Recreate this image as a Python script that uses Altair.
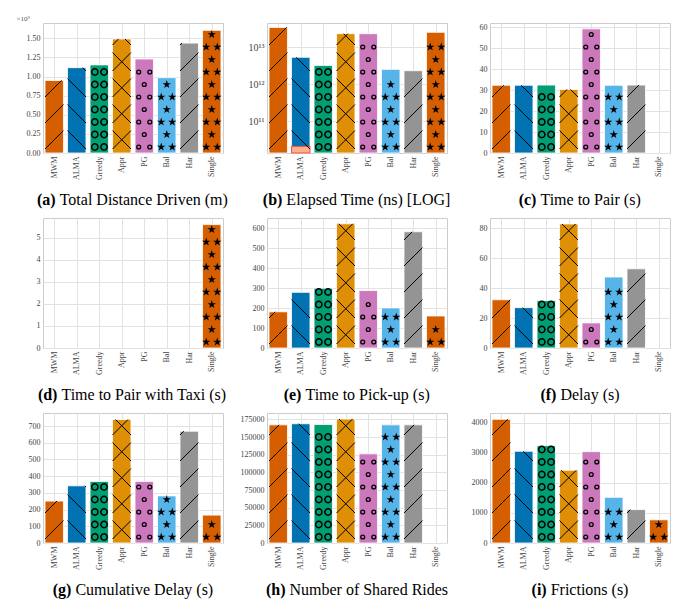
import altair as alt
import pandas as pd
import numpy as np

# ---------------- data ----------------
methods = ["MWM", "ALMA", "Greedy", "Appr", "PG", "Bal", "Har", "Single"]
colors = ["#d55e00", "#0173b2", "#029e73", "#de8f05", "#cc78bc", "#56b4e9", "#949494", "#d55e00"]
patterns = ["/", "\\", "O", "x", "o", "*", "/", "*"]

total_distance = [0.949e9, 1.116e9, 1.152e9, 1.491e9, 1.229e9, 0.985e9, 1.437e9, 1.604e9]
elapsed_time = [3.4e13, 5.3e12, 3.2e12, 2.3e13, 2.3e13, 2.5e12, 2.3e12, 2.5e13]
elapsed_alma_part = 2.1e10
time_to_pair = [32.3, 32.3, 32.4, 30.3, 59.2, 32.3, 32.4, 0]
time_to_pair_taxi = [0, 0, 0, 0, 0, 0, 0, 5.6]
time_to_pickup = [181.5, 279, 300, 623, 288, 201, 583, 160.6]
delay = [32.3, 27, 31.8, 83, 16.8, 47.5, 53, 0]
cumulative_delay = [251, 342, 368.5, 739, 368.5, 282, 669, 167]
shared_rides = [167200, 168800, 167700, 175500, 126200, 167200, 167200, 0]
frictions = [4117, 3053, 3240, 2421, 3041, 1520, 1111, 772]

# ---------------- geometry / style ----------------
W, H = 180, 130
SLOT = W / 8.0
HALF = 0.41
BW = 2 * HALF * SLOT
FONT = "Liberation Serif"
CAP_SIZE = 16
STAR = ("M0,-1L0.2245,-0.309L0.951,-0.309L0.363,0.118L0.588,0.809L0,0.382"
        "L-0.588,0.809L-0.363,0.118L-0.951,-0.309L-0.2245,-0.309Z")
LABEL_EXPR = "[" + ",".join("'%s'" % m for m in methods) + "][datum.value]"

# approximate Times metrics (per 1000 em) to centre the two-part caption
_REG = {" ": 250, "(": 333, ")": 333, "[": 333, "]": 333, "-": 333,
        "A": 722, "B": 667, "C": 667, "D": 722, "E": 611, "F": 556, "G": 722, "H": 722,
        "I": 333, "L": 611, "N": 722, "O": 722, "P": 556, "R": 667, "S": 556, "T": 611,
        "a": 444, "b": 500, "c": 444, "d": 500, "e": 444, "f": 333, "g": 500, "h": 500,
        "i": 278, "k": 500, "l": 278, "m": 778, "n": 500, "o": 500, "p": 500, "r": 333,
        "s": 389, "t": 278, "u": 500, "v": 500, "w": 722, "x": 500, "y": 500}
_BOLD = {"(": 333, ")": 333, "a": 500, "b": 556, "c": 444, "d": 556, "e": 444,
         "f": 333, "g": 500, "h": 556, "i": 278}


def text_w(s, table):
    return sum(table.get(ch, 500) for ch in s) * CAP_SIZE / 1000.0


def make_panel(values, letter, caption, ymax=None, ticks=None, log=False, lmin=None, lmax=None,
               label_expr=None, fmt="d", ytitle=None, extra=None, ylabel_size=8):
    if log:
        yscale = alt.Scale(type="log", domain=[10 ** lmin, 10 ** lmax], nice=False)
        base = 10 ** lmin
    else:
        yscale = alt.Scale(domain=[0, ymax], nice=False, zero=True)
        base = 0.0
    xscale = alt.Scale(domain=[-0.5, 7.5], nice=False, zero=False)

    def px_to_y(ypx):
        if log:
            return 10 ** (lmin + ypx * (lmax - lmin) / H)
        return ypx * ymax / H

    def bar_px(v):
        if v <= 0:
            return 0.0
        if log:
            return (np.log10(v) - lmin) * H / (lmax - lmin)
        return v * H / ymax

    def px_to_x(i, xpx):
        return i - HALF + xpx / SLOT

    bars, segs, circ_big, circ_small, stars = [], [], [], [], []

    def add_bar(i, v, fill, stroke, pat):
        bars.append({"xl": i - HALF, "xr": i + HALF, "v": v, "base": base,
                     "fill": fill, "stroke": stroke, "method": methods[i]})
        hb = bar_px(v)
        P = 26.0
        dirs = []
        if pat in ("/", "x"):
            dirs.append(1)
        if pat in ("\\", "x"):
            dirs.append(-1)
        for d in dirs:
            off = 4.0 if d == 1 else 4.0 + BW
            for c in np.arange(-3 * P + off, hb + 3 * P, P):
                if d == 1:
                    x0 = max(0.0, -c)
                    x1 = min(BW, hb - c)
                    if x1 - x0 > 0.6:
                        segs.append({"x": px_to_x(i, x0), "y": px_to_y(x0 + c),
                                     "x2": px_to_x(i, x1), "y2": px_to_y(x1 + c)})
                else:
                    x0 = max(0.0, c - hb)
                    x1 = min(BW, c)
                    if x1 - x0 > 0.6:
                        segs.append({"x": px_to_x(i, x0), "y": px_to_y(c - x0),
                                     "x2": px_to_x(i, x1), "y2": px_to_y(c - x1)})
        if pat == "O":
            r = 3.1
            step = 12.5
            k = 0
            while 6 + k * step + r <= hb:
                yy = 6 + k * step
                for fx in (0.26, 0.76):
                    circ_big.append({"x": px_to_x(i, fx * BW), "y": px_to_y(yy)})
                k += 1
        if pat in ("o", "*"):
            r = 2.0 if pat == "o" else 3.3
            step = 12.5
            k = 0
            while 6 + k * step + r <= hb:
                yy = 6 + k * step
                fxs = (0.2, 0.8) if k % 2 == 0 else (0.5,)
                for fx in fxs:
                    rec = {"x": px_to_x(i, fx * BW), "y": px_to_y(yy)}
                    (circ_small if pat == "o" else stars).append(rec)
                k += 1

    for i, v in enumerate(values):
        if v > 0:
            add_bar(i, v, colors[i], "white", patterns[i])
    if extra is not None:
        add_bar(extra[0], extra[1], extra[2], extra[3], extra[4])

    ykw = dict(values=ticks, grid=True, labelFontSize=ylabel_size)
    if label_expr:
        ykw["labelExpr"] = label_expr
    else:
        ykw["format"] = fmt
    if ytitle:
        yaxis = alt.Axis(title=ytitle, titleAngle=0, titleX=-27, titleY=-2, titleAlign="left",
                         titleBaseline="bottom", titleFontSize=7, titleFont=FONT,
                         titleFontWeight="normal", titleColor="#555555", **ykw)
    else:
        yaxis = alt.Axis(title=None, **ykw)

    xaxis = alt.Axis(values=list(range(8)), labelExpr=LABEL_EXPR, labelAngle=270,
                     grid=True, title=None)

    layers = [
        alt.Chart(pd.DataFrame(bars)).mark_rect(strokeWidth=0.8).encode(
            x=alt.X("xl:Q", scale=xscale, axis=xaxis),
            x2="xr:Q",
            y=alt.Y("v:Q", scale=yscale, axis=yaxis),
            y2="base:Q",
            fill=alt.Fill("fill:N", scale=None),
            stroke=alt.Stroke("stroke:N", scale=None),
        )
    ]
    if segs:
        layers.append(alt.Chart(pd.DataFrame(segs)).mark_rule(color="black", strokeWidth=1).encode(
            x=alt.X("x:Q", scale=xscale, axis=xaxis), x2="x2:Q",
            y=alt.Y("y:Q", scale=yscale, axis=yaxis), y2="y2:Q"))
    if circ_big:
        layers.append(alt.Chart(pd.DataFrame(circ_big)).mark_point(
            shape="circle", filled=False, color="black", strokeWidth=1.5, size=40, opacity=1).encode(
            x=alt.X("x:Q", scale=xscale, axis=xaxis), y=alt.Y("y:Q", scale=yscale, axis=yaxis)))
    if circ_small:
        layers.append(alt.Chart(pd.DataFrame(circ_small)).mark_point(
            shape="circle", filled=False, color="black", strokeWidth=1.3, size=15, opacity=1).encode(
            x=alt.X("x:Q", scale=xscale, axis=xaxis), y=alt.Y("y:Q", scale=yscale, axis=yaxis)))
    if stars:
        layers.append(alt.Chart(pd.DataFrame(stars)).mark_point(
            shape=STAR, filled=True, color="black", size=78, opacity=1).encode(
            x=alt.X("x:Q", scale=xscale, axis=xaxis), y=alt.Y("y:Q", scale=yscale, axis=yaxis)))

    # caption: bold letter + regular text, centred under the plot
    wl = text_w(letter, _BOLD)
    wr = text_w(caption, _REG)
    gap = 4.0
    x0 = W / 2.0 - (wl + gap + wr) / 2.0
    cap_y = H + 52
    layers.append(alt.Chart(pd.DataFrame({"t": [letter]})).mark_text(
        font=FONT, fontSize=CAP_SIZE, fontWeight="bold", align="left", baseline="alphabetic",
        color="black").encode(text="t:N", x=alt.value(x0), y=alt.value(cap_y)))
    layers.append(alt.Chart(pd.DataFrame({"t": [caption]})).mark_text(
        font=FONT, fontSize=CAP_SIZE, fontWeight="normal", align="left", baseline="alphabetic",
        color="black").encode(text="t:N", x=alt.value(x0 + wl + gap), y=alt.value(cap_y)))

    return alt.layer(*layers).properties(width=W, height=H)


pa = make_panel(total_distance, "(a)", "Total Distance Driven (m)", ymax=1.70e9,
                ticks=[0, 0.25e9, 0.5e9, 0.75e9, 1.0e9, 1.25e9, 1.5e9],
                label_expr="format(datum.value/1e9, '.2f')", ytitle="×10⁹")
pb = make_panel(elapsed_time, "(b)", "Elapsed Time (ns) [LOG]", log=True, lmin=10.14, lmax=13.65,
                ticks=[1e11, 1e12, 1e13], ylabel_size=10,
                label_expr="datum.value < 5e11 ? '10¹¹' : (datum.value < 5e12 ? '10¹²' : '10¹³')",
                extra=(1, elapsed_alma_part, "#fdb08c", "#f0302a", "\\"))
pc = make_panel(time_to_pair, "(c)", "Time to Pair (s)", ymax=62, ticks=[0, 10, 20, 30, 40, 50, 60])
pd_ = make_panel(time_to_pair_taxi, "(d)", "Time to Pair with Taxi (s)", ymax=5.9, ticks=[0, 1, 2, 3, 4, 5])
pe = make_panel(time_to_pickup, "(e)", "Time to Pick-up (s)", ymax=652,
                ticks=[0, 100, 200, 300, 400, 500, 600])
pf = make_panel(delay, "(f)", "Delay (s)", ymax=87, ticks=[0, 20, 40, 60, 80])
pg = make_panel(cumulative_delay, "(g)", "Cumulative Delay (s)", ymax=778,
                ticks=[0, 100, 200, 300, 400, 500, 600, 700])
ph = make_panel(shared_rides, "(h)", "Number of Shared Rides", ymax=184000,
                ticks=[0, 25000, 50000, 75000, 100000, 125000, 150000, 175000])
pi = make_panel(frictions, "(i)", "Frictions (s)", ymax=4327, ticks=[0, 1000, 2000, 3000, 4000])

chart = alt.concat(pa, pb, pc, pd_, pe, pf, pg, ph, pi, columns=3, spacing=8).configure_view(
    stroke="#cccccc", strokeWidth=1
).configure_axis(
    labelFont=FONT, labelFontSize=8, labelColor="#444444", domain=False, ticks=False,
    gridColor="#e2e2e2", gridWidth=1, labelPadding=3, minExtent=29, maxExtent=32
).properties(background="white")

chart.save("out.html", embed_options={"renderer": "svg", "actions": False})
